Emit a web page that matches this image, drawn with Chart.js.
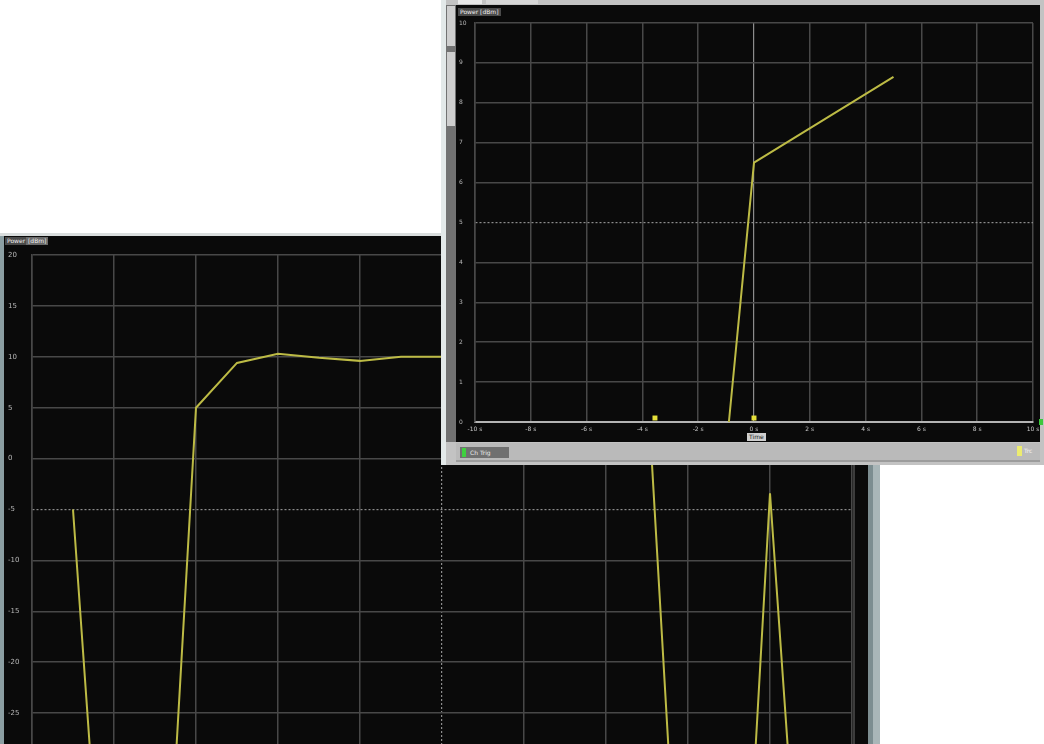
<!DOCTYPE html>
<html>
<head>
<meta charset="utf-8">
<script src="https://cdn.jsdelivr.net/npm/chart.js@4/dist/chart.umd.min.js"></script>
<style>
html,body{margin:0;padding:0;background:#fff;}
body{width:1044px;height:744px;overflow:hidden;position:relative;font-family:"DejaVu Sans",sans-serif;}
.abs{position:absolute;}
.tag{position:absolute;font-size:6px;line-height:8px;height:8px;padding:0 2px;white-space:nowrap;}
</style>
</head>
<body>

<!-- back window -->
<div class="abs" style="left:0;top:233px;width:880px;height:520px;background:#8b9ea2;"></div>
<div class="abs" style="left:0;top:233px;width:880px;height:3px;background:#d9dddd;"></div>
<div class="abs" style="left:4px;top:236px;width:864px;height:520px;background:#0a0a0a;"></div>
<div class="abs" style="left:853px;top:247px;width:2px;height:510px;background:#3c3c3c;"></div>
<div class="abs" style="left:868px;top:236px;width:5px;height:520px;background:#7c8d90;"></div>
<div class="abs" style="left:873px;top:236px;width:7px;height:520px;background:#a9b6b8;"></div>
<div class="tag" style="left:5px;top:237px;background:#4a4a4a;color:#eee;">Power</div>
<div class="tag" style="left:26px;top:237px;background:#6a6a6a;color:#eee;">[dBm]</div>
<div class="abs" style="left:4px;top:236px;width:864px;height:540px;">
  <canvas id="backChart"></canvas>
</div>

<!-- front window -->
<div class="abs" style="left:441px;top:0;width:603px;height:465px;background:#c3c3c3;"></div>
<div class="abs" style="left:441px;top:0;width:5px;height:465px;background:#e3e9e9;"></div>
<div class="abs" style="left:446px;top:5px;width:10px;height:437px;background:#727272;"></div>
<div class="abs" style="left:447px;top:6px;width:8px;height:40px;background:#cfcfcf;"></div>
<div class="abs" style="left:447px;top:52px;width:8px;height:74px;background:#cfcfcf;"></div>
<div class="abs" style="left:458px;top:0;width:24px;height:4px;background:#e9e9e9;"></div>
<div class="abs" style="left:486px;top:0;width:52px;height:4px;background:#d6d6d6;"></div>
<div class="abs" style="left:456px;top:5px;width:584px;height:437px;background:#0a0a0a;"></div>
<div class="tag" style="left:458px;top:8px;background:#4a4a4a;color:#eee;">Power [dBm]</div>
<div class="abs" style="left:457px;top:5px;width:583px;height:437px;">
  <canvas id="frontChart"></canvas>
</div>
<div class="tag" style="left:747px;top:433px;background:#cfcfcf;color:#222;">Time</div>
<div class="abs" style="left:456px;top:443px;width:584px;height:17px;background:#bababa;"></div>
<div class="abs" style="left:456px;top:460px;width:584px;height:2px;background:#9c9c9c;"></div>
<div class="abs" style="left:460px;top:447px;width:49px;height:11px;background:#707070;"></div>
<div class="abs" style="left:462px;top:448px;width:4px;height:9px;background:#3fd03f;"></div>
<div class="tag" style="left:468px;top:449px;color:#e8e8e8;">Ch Trig</div>
<div class="abs" style="left:1017px;top:446px;width:5px;height:10px;background:#ecec70;"></div>
<div class="tag" style="left:1022px;top:447px;color:#f4f4f4;">Trc</div>
<div class="abs" style="left:1039px;top:419px;width:4px;height:6px;background:#3cc83c;"></div>

<script>
// -------------------- data
var backX = [0.5, 1.0, 1.5, 2.0, 2.5, 3.0, 3.5, 4.0, 4.5, 5.0, 5.5, 6.0, 6.5, 7.0, 7.5, 8.0, 8.5, 9.0, 9.5];
var backY = [-5, -62, -65, 5, 9.4, 10.3, 9.9, 9.6, 10, 10, 10, 10, 10, 10, 7.9, -61.5, -74.5, -3.4, -61];
var backYTicks = [20, 15, 10, 5, 0, -5, -10, -15, -20, -25, -30];

var frontX = [-0.9, 0, 5];
var frontY = [0, 6.5, 8.65];
var markerX = [-3.55, 0];
var markerY = [0.1, 0.1];
var frontXTicks = [-10, -8, -6, -4, -2, 0, 2, 4, 6, 8, 10];
var frontYTicks = [10, 9, 8, 7, 6, 5, 4, 3, 2, 1, 0];

var traceColor = '#bdbb45';
var gridColor = '#484848';
var dotColor = '#8c8c8c';

function toPts(xs, ys){
	var pts = [];
	for(var i = 0;i<xs.length;i++){ pts.push({x:xs[i], y:ys[i]}); }
	return pts;
}

// grid helpers: center line dotted
function gridOpts(center){
	return {
		drawTicks:false,
		color:function(c){ return c.tick && c.tick.value==center ? dotColor : gridColor; },
		lineWidth:function(c){ return c.tick && c.tick.value==center ? 1.2 : 1.5; }
	};
}
function borderOpts(center, col, w){
	return {
		color:col, width:w,
		dash:function(c){ return c.tick && c.tick.value==center ? [2,2] : []; }
	};
}
function noSidePad(s){ s.paddingLeft = 0; s.paddingRight = 0; }

Chart.defaults.animation = false;
Chart.defaults.font.family = '"DejaVu Sans", sans-serif';

// -------------------- back chart
new Chart(document.getElementById('backChart').getContext('2d'), {
	type:'line',
	data:{
		datasets:[{
			data:toPts(backX, backY),
			borderColor:traceColor,
			borderWidth:2,
			pointRadius:0,
			fill:false,
			tension:0
		}]
	},
	options:{
		responsive:true,
		maintainAspectRatio:false,
		layout:{padding:{left:4, top:19, right:16, bottom:0}},
		plugins:{legend:{display:false}, tooltip:{enabled:false}},
		scales:{
			x:{
				type:'linear', min:0, max:10,
				ticks:{display:false, stepSize:1},
				grid:gridOpts(5),
				border:borderOpts(5, gridColor, 1.5),
				afterFit:function(s){ s.height = 12; noSidePad(s); }
			},
			y:{
				min:-30, max:20,
				afterBuildTicks:function(s){ s.ticks = backYTicks.map(function(v){ return {value:v}; }); },
				ticks:{color:'#b8b8b8', font:{size:7}, padding:0, crossAlign:'far'},
				grid:gridOpts(-5),
				border:borderOpts(-5, gridColor, 1.5),
				afterFit:function(s){ s.width = 24; }
			}
		}
	}
});

// -------------------- front chart
new Chart(document.getElementById('frontChart').getContext('2d'), {
	type:'line',
	data:{
		datasets:[{
			data:toPts(frontX, frontY),
			borderColor:traceColor,
			borderWidth:2,
			pointRadius:0,
			fill:false,
			tension:0
		},{
			data:toPts(markerX, markerY),
			showLine:false,
			pointStyle:'rect',
			pointRadius:3.5,
			backgroundColor:'#e6e03a',
			borderWidth:0
		}]
	},
	options:{
		responsive:true,
		maintainAspectRatio:false,
		layout:{padding:{left:2, top:18, right:7, bottom:0}},
		plugins:{legend:{display:false}, tooltip:{enabled:false}},
		scales:{
			x:{
				type:'linear', min:-10, max:10,
				afterBuildTicks:function(s){ s.ticks = frontXTicks.map(function(v){ return {value:v}; }); },
				ticks:{color:'#c8c8c8', font:{size:6}, padding:4, maxRotation:0,
					callback:function(v){ return v + ' s'; }},
				grid:gridOpts(0),
				border:{color:'#b4b4b4', width:2},
				afterFit:function(s){ s.height = 20; noSidePad(s); }
			},
			y:{
				min:0, max:10,
				afterBuildTicks:function(s){ s.ticks = frontYTicks.map(function(v){ return {value:v}; }); },
				ticks:{color:'#b8b8b8', font:{size:6}, padding:0, crossAlign:'far'},
				grid:gridOpts(5),
				border:borderOpts(5, gridColor, 1.5),
				afterFit:function(s){ s.width = 16; }
			}
		}
	}
});
</script>
</body>
</html>
